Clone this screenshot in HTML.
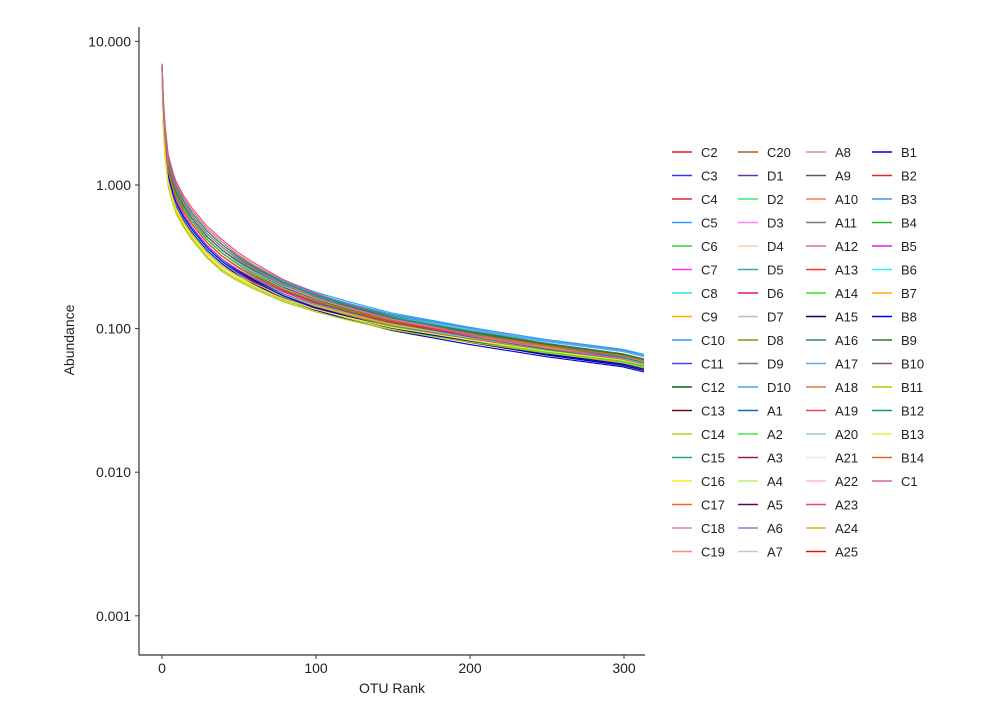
<!DOCTYPE html>
<html><head><meta charset="utf-8">
<style>
body{margin:0;background:#fff;}
svg{font-family:"Liberation Sans",Arial,sans-serif;}
</style></head>
<body>
<svg id="chart" width="993" height="716" viewBox="0 0 993 716">
<g id="plot"></g>
<g id="axes"></g>
<g id="legend"></g>
</svg>
<script>
const seriesNames=["C2","C3","C4","C5","C6","C7","C8","C9","C10","C11","C12","C13","C14","C15","C16","C17","C18","C19",
"C20","D1","D2","D3","D4","D5","D6","D7","D8","D9","D10","A1","A2","A3","A4","A5","A6","A7",
"A8","A9","A10","A11","A12","A13","A14","A15","A16","A17","A18","A19","A20","A21","A22","A23","A24","A25",
"B1","B2","B3","B4","B5","B6","B7","B8","B9","B10","B11","B12","B13","B14","C1"];
const seriesColors=["#e41a1c","#3333ff","#cc3333","#3399ff","#33cc33","#ff33ff","#33dddd","#ffaa00","#3399ff","#4444ff","#006600","#661111","#bbcc22","#22aa77","#eeee22","#ee6611","#dd88aa","#ff8888",
"#aa6622","#6633aa","#33ee66","#ff88ff","#ffccaa","#33aaaa","#dd1177","#bbbbbb","#888822","#777777","#44aaee","#1166bb","#44ee44","#aa1155","#bbee77","#660066","#9977dd","#ddbbdd",
"#cc9999","#446655","#ff7755","#777777","#dd7777","#ff3333","#22ee22","#000077","#338855","#66aadd","#dd7733","#ee4444","#99ccaa","#f5e5dd","#ffbbbb","#ee4477","#eeaa22","#ee1111",
"#0000cc","#ee2222","#3399ee","#22bb33","#dd22dd","#33eeee","#ffaa11","#0000ee","#337733","#885555","#aacc00","#119966","#eeee44","#dd6622","#cc66aa"];
// base rank-abundance curve (%)
const baseRanks=[1,2,3,5,8,10,15,20,30,40,50,60,80,100,120,150,200,250,300,314];
const baseValues=[7.0,3.0,2.0,1.25,0.95,0.82,0.65,0.54,0.40,0.32,0.27,0.235,0.185,0.155,0.135,0.112,0.090,0.074,0.063,0.058];
// per-series multipliers: head (rank<=40) and tail (rank 314)
const headFactor=[1.1,0.9,1.0,1.15,0.95,1.05,0.85,0.9,1.2,0.95,1.1,1.0,0.8,1.15,0.85,0.9,1.25,1.1,
1.0,0.95,1.05,1.1,0.9,1.2,1.05,0.95,1.0,1.1,1.15,0.9,1.0,1.05,0.85,0.9,1.1,1.0,
1.2,1.05,0.95,1.1,1.25,1.0,0.9,0.95,1.15,1.05,1.0,0.9,1.1,1.0,1.05,1.3,0.95,1.0,
0.88,1.0,1.1,1.05,0.95,0.9,0.85,0.92,1.1,1.0,0.78,1.2,0.82,1.0,1.15];
const tailFactor=[1.0,0.9,0.95,1.1,0.92,1.0,0.95,1.0,1.12,0.88,1.05,0.95,0.95,1.0,0.9,1.02,0.98,0.93,
1.0,0.9,1.03,1.0,0.95,1.05,0.98,1.0,0.97,1.04,1.1,0.95,0.92,1.0,0.96,0.9,1.02,1.0,
0.95,1.05,1.0,1.02,0.9,1.0,0.94,0.88,1.06,1.1,1.0,0.96,1.0,1.0,0.98,0.95,1.02,1.0,
0.86,1.0,1.14,0.95,1.0,0.98,1.02,0.9,1.05,0.97,0.93,1.0,0.96,1.03,0.97];
const xTicks=[0,100,200,300];
const yTicks=[10,1,0.1,0.01,0.001];
const yTickLabels=["10.000","1.000","0.100","0.010","0.001"];

const NS="http://www.w3.org/2000/svg";
const x=r=>162+(r-1)*1.54;
const y=v=>185-143.6*Math.log10(v);
function mk(tag,attrs,parent){const e=document.createElementNS(NS,tag);for(const k in attrs)e.setAttribute(k,attrs[k]);parent.appendChild(e);return e;}
const plot=document.getElementById('plot'),axes=document.getElementById('axes'),legend=document.getElementById('legend');

seriesNames.forEach((name,i)=>{
  let d='';
  baseRanks.forEach((r,j)=>{
    const t=Math.min(1,Math.max(0,(Math.log(r)-Math.log(40))/(Math.log(314)-Math.log(40))));
    const f=r<=40?headFactor[i]:headFactor[i]*(1-t)+tailFactor[i]*t;
    const v=j==0?baseValues[0]*(0.7+0.3*headFactor[i]/1.3):baseValues[j]*f;
    d+=(j?'L':'M')+x(r).toFixed(1)+','+y(v).toFixed(1);
  });
  const p=mk('path',{d:d,fill:'none',stroke:seriesColors[i],'stroke-width':1.1},plot);
  
  
});

let a=mk('line',{x1:139,y1:27,x2:139,y2:655,stroke:'#333','stroke-width':1.2},axes);

a=mk('line',{x1:139,y1:655,x2:645,y2:655,stroke:'#333','stroke-width':1.2},axes);

yTicks.forEach((v,i)=>{
  mk('line',{x1:135,x2:139,y1:y(v),y2:y(v),stroke:'#333'},axes);
  const t=mk('text',{x:131,y:y(v)+5,'text-anchor':'end','font-size':14,fill:'#222'},axes);
  t.textContent=yTickLabels[i];
  
  
});
xTicks.forEach(v=>{
  mk('line',{x1:x(v+1),x2:x(v+1),y1:655,y2:659,stroke:'#333'},axes);
  const t=mk('text',{x:x(v+1),y:673,'text-anchor':'middle','font-size':14,fill:'#222'},axes);
  t.textContent=v;
  
  
});
let t=mk('text',{x:392,y:693,'text-anchor':'middle','font-size':14,fill:'#222'},axes);
t.textContent='OTU Rank';
t=mk('text',{x:74,y:340,'text-anchor':'middle','font-size':14,fill:'#222',transform:'rotate(-90 74 340)'},axes);
t.textContent='Abundance';

const colX=[672,738,806,872];
seriesNames.forEach((name,i)=>{
  const c=Math.floor(i/18),r=i%18;
  const gx=colX[c],gy=152+r*23.5;
  const g=mk('g',{},legend);
  
  
  mk('line',{x1:gx,x2:gx+20,y1:gy,y2:gy,stroke:seriesColors[i],'stroke-width':1.6},g);
  const tx=mk('text',{x:gx+29,y:gy+5,'font-size':13,fill:'#222'},g);
  tx.textContent=name;
});
</script>
</body></html>
